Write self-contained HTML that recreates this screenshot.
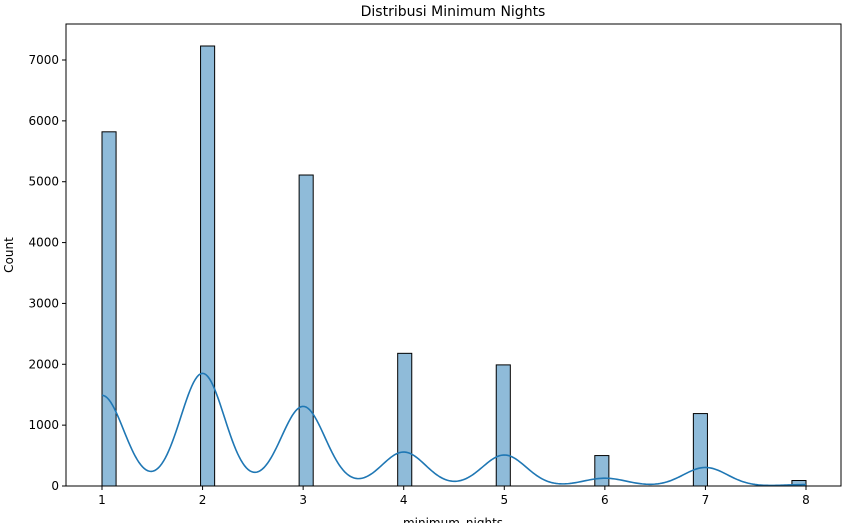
<!DOCTYPE html>
<html><head><meta charset="utf-8"><style>
html,body{margin:0;padding:0;background:#fff;}
svg{display:block;font-family:"DejaVu Sans","Liberation Sans",sans-serif;}
</style></head><body>
<svg id="chart" width="845" height="523" viewBox="0 0 845 523" xmlns="http://www.w3.org/2000/svg">
<text x="453" y="16" font-size="14" text-anchor="middle">Distribusi Minimum Nights</text>
<text transform="translate(13,255) rotate(-90)" font-size="12" text-anchor="middle">Count</text>
<text x="453" y="527" font-size="12" text-anchor="middle">minimum_nights</text>
<g id="bars"></g>
<g id="kde"></g>
<g id="axes"></g>
</svg>
<script>
const categories = [1, 2, 3, 4, 5, 6, 7, 8];
const counts = [5820, 7230, 5110, 2180, 1990, 500, 1190, 90];
const yTicks = [0, 1000, 2000, 3000, 4000, 5000, 6000, 7000];
const xTicks = [1, 2, 3, 4, 5, 6, 7, 8];

const L = 66, R = 841, T = 24, B = 486;
const xMin = 0.65, xMax = 8.35;
const xs = v => 102 + (v - 1) * (806 - 102) / 7;
const ys = v => B - v * (B - 60) / 7000;
const NS = "http://www.w3.org/2000/svg";
function mk(tag, attrs, parent){
  const e = document.createElementNS(NS, tag);
  for (const k in attrs) e.setAttribute(k, attrs[k]);
  parent.appendChild(e); return e;
}
const lo = Math.min(...categories), hi = Math.max(...categories);
const nb = 50, bw = (hi - lo) / nb;
const barsG = document.getElementById('bars');
categories.forEach((c, i) => {
  let k = Math.floor((c - lo) / bw + 1e-9); if (k >= nb) k = nb - 1;
  const x0 = lo + k * bw, x1 = x0 + bw;
  const r = mk('rect', {x: xs(x0), y: ys(counts[i]), width: xs(x1) - xs(x0), height: B - ys(counts[i]),
    fill: 'rgba(31,119,180,0.5)', stroke: '#000', 'stroke-width': 1}, barsG);
  
  
});
// KDE (Scott bandwidth), scaled to counts
const n = counts.reduce((a, b) => a + b, 0);
const mean = categories.reduce((s, c, i) => s + c * counts[i], 0) / n;
const v = categories.reduce((s, c, i) => s + (c - mean) ** 2 * counts[i], 0) / (n - 1);
const h = Math.sqrt(v) * Math.pow(n, -0.2);
let d = '';
for (let j = 0; j <= 400; j++) {
  const x = lo + (hi - lo) * j / 400;
  let dens = 0;
  categories.forEach((c, i) => { dens += counts[i] * Math.exp(-0.5 * ((x - c) / h) ** 2); });
  dens = dens / (h * Math.sqrt(2 * Math.PI)) * bw;
  d += (j ? 'L' : 'M') + xs(x).toFixed(2) + ',' + ys(dens).toFixed(2);
}
const kl = mk('path', {d: d, fill: 'none', stroke: '#1f77b4', 'stroke-width': 1.6}, document.getElementById('kde'));


const ax = document.getElementById('axes');
const fr = mk('rect', {x: L, y: T, width: R - L, height: B - T, fill: 'none', stroke: '#000', 'stroke-width': 1}, ax);


yTicks.forEach(t => {
  const y = ys(t);
  mk('line', {x1: L - 4, x2: L, y1: y, y2: y, stroke: '#000'}, ax);
  const tx = mk('text', {x: L - 7, y: y + 4, 'font-size': 12, 'text-anchor': 'end'}, ax);
  tx.textContent = t;
  
  
});
xTicks.forEach(t => {
  const x = xs(t);
  mk('line', {x1: x, x2: x, y1: B, y2: B + 4, stroke: '#000'}, ax);
  const tx = mk('text', {x: x, y: B + 18, 'font-size': 12, 'text-anchor': 'middle'}, ax);
  tx.textContent = t;
  
  
});
</script>
</body></html>
